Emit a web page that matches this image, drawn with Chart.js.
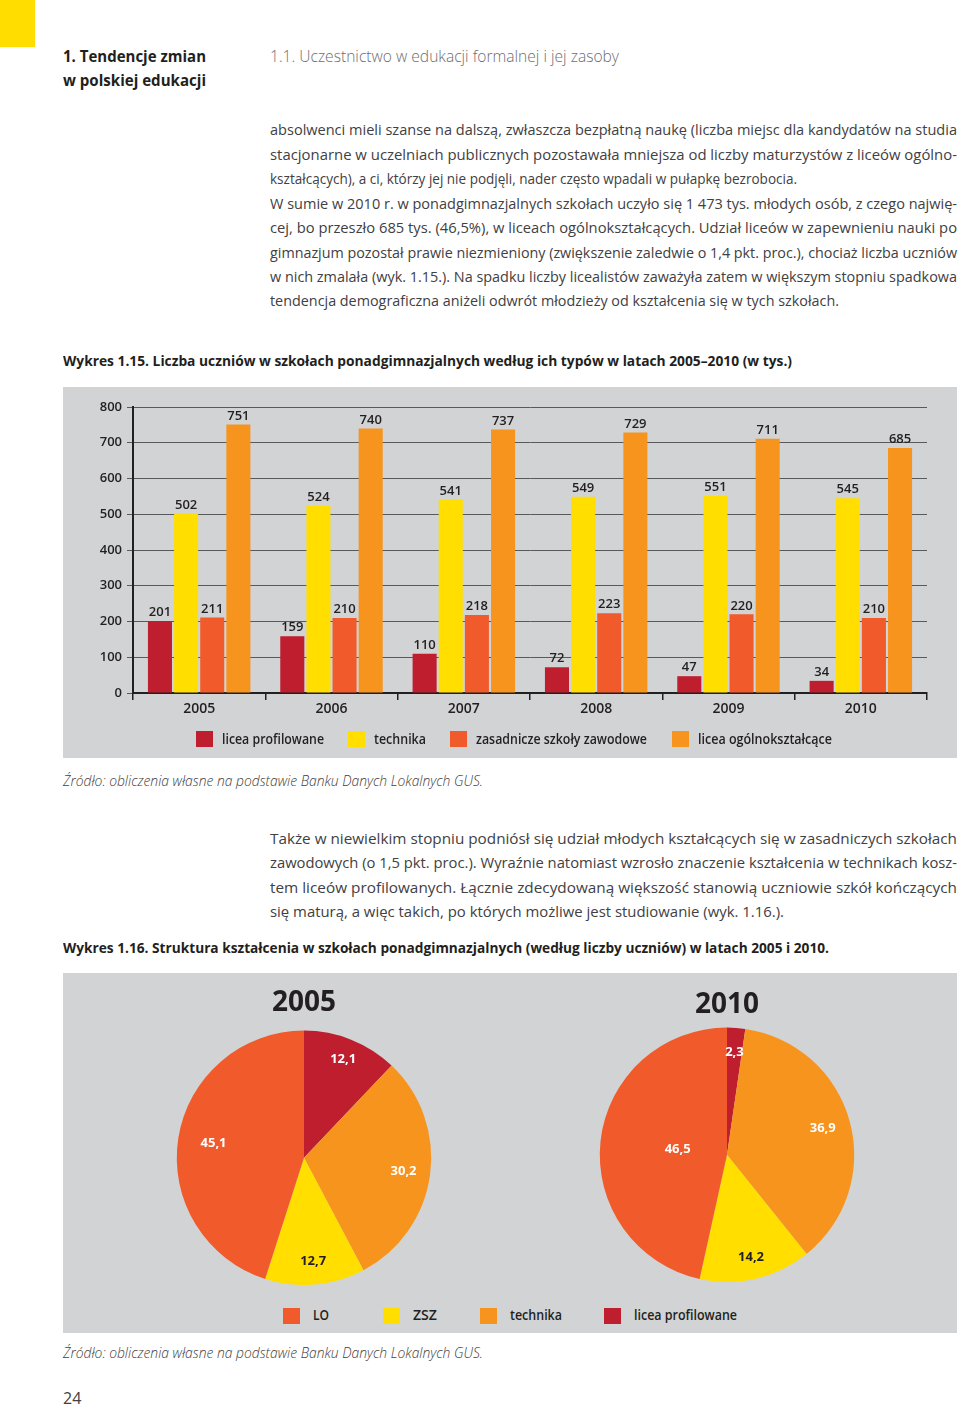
<!DOCTYPE html>
<html lang="pl">
<head>
<meta charset="utf-8">
<title>Wykres 1.15 i 1.16</title>
<script src="https://cdn.jsdelivr.net/npm/chart.js@4.4.1/dist/chart.umd.min.js"></script>
<style>
  html, body { margin: 0; padding: 0; background: #fff; }
  body { width: 960px; height: 1406px; position: relative; overflow: hidden; font-family: "Open Sans", sans-serif; color: #231f20; }
  .abs { position: absolute; white-space: nowrap; line-height: 20px; }
  .fit { display: inline-block; transform-origin: left center; }
  .body-line { left: 270px; font-size: 15px; color: #414042; }
  .head-bold { left: 63px; font-size: 16px; font-weight: 700; }
  .caption { left: 63px; font-size: 15px; font-weight: 700; }
  .source { left: 63px; font-size: 14px; font-style: italic; color: #414042; font-weight: 300; }
  .panel { position: absolute; left: 63px; width: 894px; background: #d1d3d4; }
  .box { position: absolute; width: 17px; height: 16px; }
  .lg-text { position: absolute; font-size: 14px; font-weight: 600; line-height: 18px; white-space: nowrap; }
</style>
</head>
<body>

<div class="abs" style="left:0;top:0;width:35px;height:47px;background:#ffdd00;"></div>
<div class="abs head-bold" style="top:46px;"><span class="fit" data-w="143">1. Tendencje zmian</span></div>
<div class="abs head-bold" style="top:70px;"><span class="fit" data-w="143">w polskiej edukacji</span></div>
<div class="abs" style="left:270px;top:46px;font-size:16px;color:#6d6e71;font-weight:300;"><span class="fit" data-w="349">1.1. Uczestnictwo w edukacji formalnej i jej zasoby</span></div>

<div class="abs body-line" style="top:119px;"><span class="fit" data-w="687">absolwenci mieli szanse na dalszą, zwłaszcza bezpłatną naukę (liczba miejsc dla kandydatów na studia</span></div>
<div class="abs body-line" style="top:144px;"><span class="fit" data-w="687">stacjonarne w uczelniach publicznych pozostawała mniejsza od liczby maturzystów z liceów ogólno-</span></div>
<div class="abs body-line" style="top:168px;"><span class="fit" data-w="527">kształcących), a ci, którzy jej nie podjęli, nader często wpadali w pułapkę bezrobocia.</span></div>
<div class="abs body-line" style="top:193px;"><span class="fit" data-w="687">W sumie w 2010 r. w ponadgimnazjalnych szkołach uczyło się 1 473 tys. młodych osób, z czego najwię-</span></div>
<div class="abs body-line" style="top:217px;"><span class="fit" data-w="687">cej, bo przeszło 685 tys. (46,5%), w liceach ogólnokształcących. Udział liceów w zapewnieniu nauki po</span></div>
<div class="abs body-line" style="top:242px;"><span class="fit" data-w="687">gimnazjum pozostał prawie niezmieniony (zwiększenie zaledwie o 1,4 pkt. proc.), chociaż liczba uczniów</span></div>
<div class="abs body-line" style="top:266px;"><span class="fit" data-w="687">w nich zmalała (wyk. 1.15.). Na spadku liczby licealistów zaważyła zatem w większym stopniu spadkowa</span></div>
<div class="abs body-line" style="top:290px;"><span class="fit" data-w="569">tendencja demograficzna aniżeli odwrót młodzieży od kształcenia się w tych szkołach.</span></div>

<div class="abs caption" style="top:350px;"><span class="fit" data-w="729">Wykres 1.15. Liczba uczniów w szkołach ponadgimnazjalnych według ich typów w latach 2005–2010 (w tys.)</span></div>

<div class="panel" style="top:387px;height:371px;">
  <div style="position:absolute;left:0;top:0;width:894px;height:370px;"><canvas id="barChart"></canvas></div>
  <div id="barLegend"></div>
</div>

<div class="abs source" style="top:771px;"><span class="fit" data-w="420">Źródło: obliczenia własne na podstawie Banku Danych Lokalnych GUS.</span></div>

<div class="abs body-line" style="top:828px;"><span class="fit" data-w="687">Także w niewielkim stopniu podniósł się udział młodych kształcących się w zasadniczych szkołach</span></div>
<div class="abs body-line" style="top:852px;"><span class="fit" data-w="687">zawodowych (o 1,5 pkt. proc.). Wyraźnie natomiast wzrosło znaczenie kształcenia w technikach kosz-</span></div>
<div class="abs body-line" style="top:877px;"><span class="fit" data-w="687">tem liceów profilowanych. Łącznie zdecydowaną większość stanowią uczniowie szkół kończących</span></div>
<div class="abs body-line" style="top:901px;"><span class="fit" data-w="514">się maturą, a więc takich, po których możliwe jest studiowanie (wyk. 1.16.).</span></div>

<div class="abs caption" style="top:937px;"><span class="fit" data-w="766">Wykres 1.16. Struktura kształcenia w szkołach ponadgimnazjalnych (według liczby uczniów) w latach 2005 i 2010.</span></div>

<div class="panel" style="top:973px;height:360px;"></div>
<div style="position:absolute;left:154px;top:979px;width:300px;height:306px;"><canvas id="pie2005"></canvas></div>
<div style="position:absolute;left:577px;top:981px;width:300px;height:301px;"><canvas id="pie2010"></canvas></div>
<div id="pieLegend"></div>

<div class="abs source" style="top:1343px;"><span class="fit" data-w="420">Źródło: obliczenia własne na podstawie Banku Danych Lokalnych GUS.</span></div>
<div class="abs" style="left:63px;top:1388px;font-size:16px;color:#414042;">24</div>

<script>
// --- dane: wykres 1.15 (w tys.) ---
const years = ['2005', '2006', '2007', '2008', '2009', '2010'];
const seriesNames = ['licea profilowane', 'technika', 'zasadnicze szkoły zawodowe', 'licea ogólnokształcące'];
const liceaProfilowane = [201, 159, 110, 72, 47, 34];
const technika = [502, 524, 541, 549, 551, 545];
const zasadnicze = [211, 210, 218, 223, 220, 210];
const liceaOgolne = [751, 740, 737, 729, 711, 685];
const yTicks = [0, 100, 200, 300, 400, 500, 600, 700, 800];

// --- dane: wykres 1.16 (%) ---
const pieLabels = ['licea profilowane', 'technika', 'ZSZ', 'LO'];
const pie2005 = [12.1, 30.2, 12.7, 45.1];
const pie2010 = [2.3, 36.9, 14.2, 46.5];
const pieLegendOrder = ['LO', 'ZSZ', 'technika', 'licea profilowane'];

const colors = {
    red: '#be1e2d',
    yellow: '#ffde00',
    orangeRed: '#f15a2b',
    orange: '#f7941e'
};
const barColors = [colors.red, colors.yellow, colors.orangeRed, colors.orange];
const pieColors = { 'licea profilowane': colors.red, 'technika': colors.orange, 'ZSZ': colors.yellow, 'LO': colors.orangeRed };

const ink = '#231f20';
const font = '"Open Sans", sans-serif';

// etykiety wartości nad słupkami
const valueLabels = {
    id: 'valueLabels',
    afterDatasetsDraw(chart) {
        const ctx = chart.ctx;
        ctx.save();
        ctx.font = '600 13px ' + font;
        ctx.fillStyle = ink;
        ctx.textAlign = 'center';
        ctx.textBaseline = 'bottom';
        chart.data.datasets.forEach((ds, i) => {
            chart.getDatasetMeta(i).data.forEach((bar, j) => {
                ctx.fillText(String(ds.data[j]), bar.x, bar.y - 2);
            });
        });
        ctx.restore();
    }
};

// --- 1. Wykres słupkowy ---
new Chart(document.getElementById('barChart'), {
    type: 'bar',
    data: {
        labels: years,
        datasets: [liceaProfilowane, technika, zasadnicze, liceaOgolne].map((d, i) => ({
            label: seriesNames[i],
            data: d,
            backgroundColor: barColors[i],
            borderWidth: 0,
            categoryPercentage: 0.79,
            barPercentage: 0.92
        }))
    },
    options: {
        responsive: true,
        maintainAspectRatio: false,
        animation: false,
        layout: { padding: { top: 20, right: 30, bottom: 36, left: 0 } },
        scales: {
            x: {
                grid: { offset: true, drawOnChartArea: false, color: ink, lineWidth: 1.5, tickLength: 7 },
                border: { color: ink, width: 2 },
                ticks: { color: ink, font: { family: font, size: 14, weight: '600' }, padding: 1 },
                afterFit: s => { s.height = 28; }
            },
            y: {
                min: 0,
                max: 800,
                afterBuildTicks: s => { s.ticks = yTicks.map(v => ({ value: v })); },
                grid: { color: '#58595b', lineWidth: 1, tickLength: 6 },
                border: { color: ink, width: 2 },
                ticks: { color: ink, font: { family: font, size: 13, weight: '600' }, padding: 5 },
                afterFit: s => { s.width = 70; }
            }
        },
        plugins: { legend: { display: false }, tooltip: { enabled: false } }
    },
    plugins: [valueLabels]
});

// legenda wykresu słupkowego
const barLegendX = [133, 285, 387, 609];
const barLegendW = [102, 52, 171, 134];
document.getElementById('barLegend').innerHTML = seriesNames.map((name, i) =>
    `<div class="box" style="left:${barLegendX[i]}px;top:344px;background:${barColors[i]}"></div>` +
    `<div class="lg-text" style="left:${barLegendX[i] + 26}px;top:343px;"><span class="fit" data-w="${barLegendW[i]}">${name}</span></div>`
).join('');

// etykiety procentowe na wycinkach
const pieValueLabels = {
    id: 'pieValueLabels',
    afterDatasetsDraw(chart, args, opts) {
        const ctx = chart.ctx;
        const meta = chart.getDatasetMeta(0);
        const ds = chart.data.datasets[0];
        ctx.save();
        ctx.font = '700 13px ' + font;
        ctx.textAlign = 'center';
        ctx.textBaseline = 'middle';
        meta.data.forEach((arc, i) => {
            const mid = (arc.startAngle + arc.endAngle) / 2;
            const r = arc.outerRadius * (opts.radius[i] || 0.8);
            ctx.fillStyle = chart.data.labels[i] === 'ZSZ' ? ink : '#fff';
            ctx.fillText(ds.data[i].toFixed(1).replace('.', ','), arc.x + Math.cos(mid) * r, arc.y + Math.sin(mid) * r);
        });
        ctx.restore();
    }
};

function makePie(id, title, values, labelRadius, titleBottom) {
    return new Chart(document.getElementById(id), {
        type: 'pie',
        data: {
            labels: pieLabels,
            datasets: [{
                data: values,
                backgroundColor: pieLabels.map(l => pieColors[l]),
                borderWidth: 0
            }]
        },
        options: {
            responsive: true,
            maintainAspectRatio: false,
            animation: false,
            layout: { padding: 0 },
            plugins: {
                legend: { display: false },
                tooltip: { enabled: false },
                title: {
                    display: true,
                    text: title,
                    color: ink,
                    font: { family: font, size: 28, weight: '700' },
                    padding: { top: 7, bottom: titleBottom }
                },
                pieValueLabels: { radius: labelRadius }
            }
        },
        plugins: [pieValueLabels]
    });
}

// --- 2. Wykresy kołowe ---
makePie('pie2005', '2005', pie2005, [0.83, 0.79, 0.82, 0.72], 11);
makePie('pie2010', '2010', pie2010, [0.81, 0.78, 0.83, 0.39], 6);

// legenda wykresów kołowych
const pieLegendX = [283, 383, 480, 604];
const pieLegendW = [16, 24, 52, 103];
document.getElementById('pieLegend').innerHTML = pieLegendOrder.map((name, i) =>
    `<div class="box" style="left:${pieLegendX[i]}px;top:1308px;background:${pieColors[name]}"></div>` +
    `<div class="lg-text" style="left:${pieLegendX[i] + 30}px;top:1306px;"><span class="fit" data-w="${pieLegendW[i]}">${name}</span></div>`
).join('');

// dopasowanie szerokości tekstu do oryginalnego układu
document.querySelectorAll('.fit').forEach(el => {
    const w = el.getBoundingClientRect().width;
    const target = +el.dataset.w;
    if (w > 0 && target) el.style.transform = `scaleX(${target / w})`;
});
</script>
</body>
</html>
